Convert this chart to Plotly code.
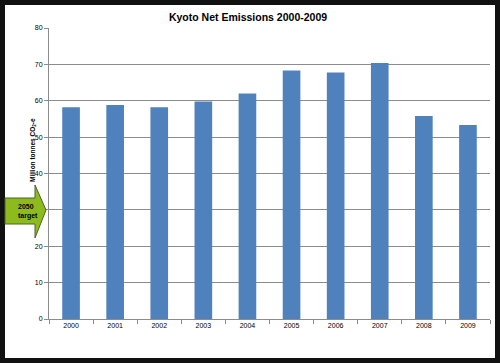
import plotly.graph_objects as go

years = ["2000", "2001", "2002", "2003", "2004", "2005", "2006", "2007", "2008", "2009"]
emissions = [58.2, 58.8, 58.2, 59.8, 62.0, 68.3, 67.8, 70.4, 55.8, 53.3]
title_text = "Kyoto Net Emissions 2000-2009"
y_title = "Million tonnes CO<sub>2</sub>-e"
target_label = "2050<br>target"

W, H = 500, 363
L, R, T, B = 49, 10, 28, 44
PW, PH = W - L - R, H - T - B

def px(x):
    return (x - L) / PW

def py(y):
    return (H - B - y) / PH

fig = go.Figure(go.Bar(x=years, y=emissions, marker_color="#4F81BD",
                       marker_line_width=0))

fig.update_layout(
    width=W, height=H,
    margin=dict(l=L, r=R, t=T, b=B),
    paper_bgcolor="white", plot_bgcolor="white",
    bargap=0.6,
    showlegend=False,
    font=dict(family="Liberation Sans", color="black"),
    title=dict(text="<b>" + title_text + "</b>", x=0.496, xanchor="center",
               y=1 - 17 / H, yanchor="middle",
               font=dict(size=10.5, color="black")),
)
fig.update_xaxes(type="category", showline=True, linecolor="#8c8c8c", linewidth=1,
                 ticks="outside", tickson="boundaries", ticklen=4, tickcolor="#8c8c8c",
                 tickfont=dict(size=7, color="black"), showgrid=False)
fig.update_yaxes(range=[0, 80], dtick=10, showline=True, linecolor="#8c8c8c", linewidth=1,
                 ticks="outside", ticklen=4, tickcolor="#8c8c8c",
                 showgrid=True, gridcolor="#8c8c8c", gridwidth=1,
                 tickfont=dict(size=7, color="black"), zeroline=False)

# frame
fig.add_shape(type="rect", xref="paper", yref="paper",
              x0=px(0), x1=px(W), y0=py(H), y1=py(0),
              line=dict(color="#111111", width=10), fillcolor="rgba(0,0,0,0)", layer="above")

# y-axis title
fig.add_annotation(xref="paper", yref="paper", x=px(27), y=py(150),
                   text="<b>" + y_title + "</b>", textangle=-90, showarrow=False,
                   font=dict(size=6.5, color="black"))

# target arrow
ax = [5, 35, 35, 46, 35, 35, 5]
ay = [198, 198, 185, 210, 238, 224, 224]
path = "M " + " L ".join(f"{px(a)},{py(b)}" for a, b in zip(ax, ay)) + " Z"
fig.add_shape(type="path", xref="paper", yref="paper", path=path,
              fillcolor="#8DBB1E", line=dict(color="#4F6228", width=1), layer="above")
fig.add_annotation(xref="paper", yref="paper", x=px(17), y=py(211),
                   text="<b>" + target_label + "</b>", showarrow=False, align="left",
                   borderpad=0,
                   font=dict(size=7, color="black"))

fig.write_html("out.html", config={"displayModeBar": False},
               post_script="document.body.style.margin='0';document.body.style.padding='0';document.body.style.overflow='hidden';")
